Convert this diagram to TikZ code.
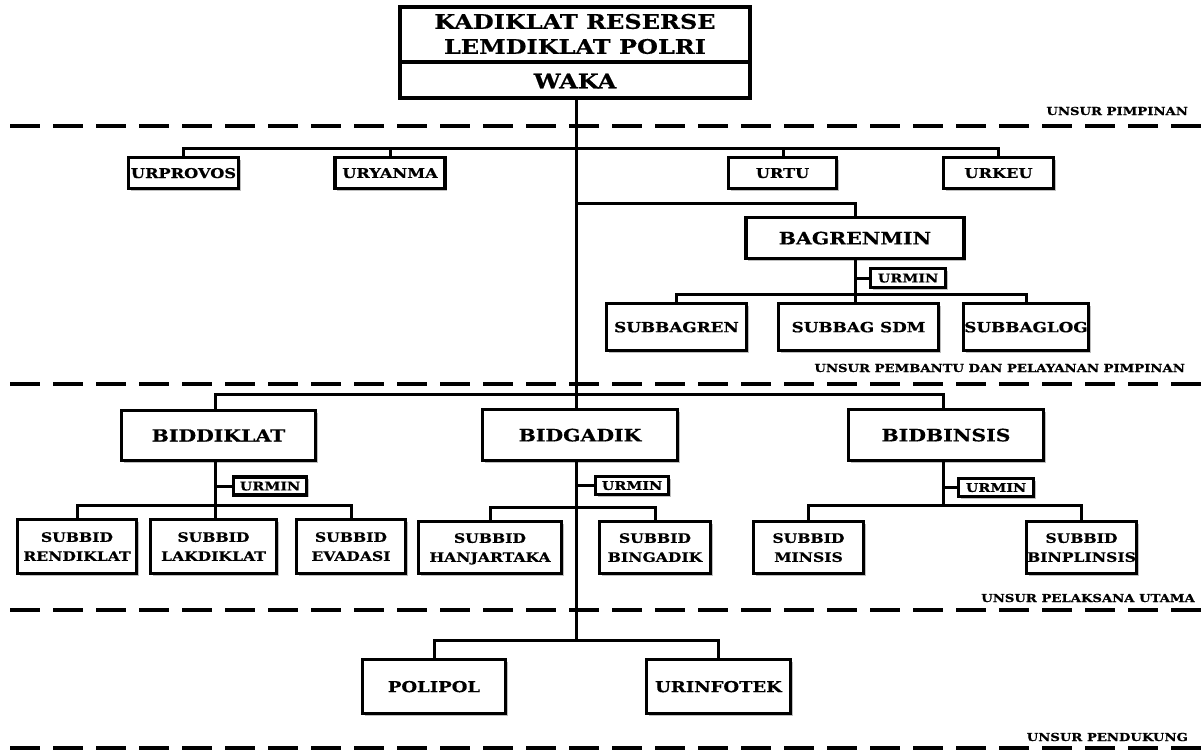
\documentclass[tikz,border=0pt]{standalone}
\usepackage{fontspec}
\setmainfont{DejaVu Serif}[FakeStretch=1.2, BoldFeatures={FakeBold=0.6}]
\usetikzlibrary{shadows}
\begin{document}
\begin{tikzpicture}[x=1pt,y=-1pt,
  bx/.style={draw, line width=3.5pt, fill=white, align=center, inner sep=0pt,
    font=\bfseries, text depth=0pt,
    drop shadow={shadow xshift=2pt, shadow yshift=-2pt, fill=black, opacity=0.25}},
  conn/.style={line width=3pt},
  sep/.style={line width=4.5pt, dash pattern=on 30pt off 13pt},
  lbl/.style={font=\bfseries\fontsize{11}{12}\selectfont, anchor=east, inner sep=0pt},
  ttl/.style={font=\bfseries\fontsize{20}{25}\selectfont, align=center, inner sep=0pt},
  big/.style={font=\bfseries\fontsize{17}{20}\selectfont},
  med/.style={font=\bfseries\fontsize{14}{17}\selectfont},
  lrg/.style={font=\bfseries\fontsize{15}{18}\selectfont},
  sm/.style={font=\bfseries\fontsize{13.5}{15}\selectfont},
  two/.style={font=\bfseries\fontsize{13}{19}\selectfont},
  tiny/.style={font=\bfseries\fontsize{12}{13}\selectfont}
]
\useasboundingbox (0,0) rectangle (1201,753);
\fill[white] (0,0) rectangle (1201,753);

% separators
\draw[sep] (10,126) -- (1201,126);
\draw[sep] (10,384) -- (1201,384);
\draw[sep] (10,610) -- (1201,610);
\draw[sep] (10,748) -- (1201,748);

% labels
\node[lbl] (l1) at (1188,111) {UNSUR PIMPINAN};
\node[lbl] (l2) at (1185,368) {UNSUR PEMBANTU DAN PELAYANAN PIMPINAN};
\node[lbl] (l3) at (1195,598) {UNSUR PELAKSANA UTAMA};
\node[lbl] (l4) at (1188,737) {UNSUR PENDUKUNG};

% junction coordinates
\coordinate (j1) at (576,148);
\coordinate (j2) at (576,203);
\coordinate (jb) at (855,294);
\coordinate (j3) at (576,394);
\coordinate (jd) at (215,505);
\coordinate (jg) at (576,507);
\coordinate (js) at (943,505);
\coordinate (j4) at (576,640);
\coordinate (trunktop) at (576,98);

% trunk and connectors (drawn below boxes)
\draw[conn] (trunktop) -- (j4);
\coordinate (cprov) at (183,160);
\coordinate (cyan) at (390,160);
\coordinate (ctu) at (783,160);
\coordinate (ckeu) at (998,160);
\draw[conn] (cprov) |- (j1) -| (ckeu);
\draw[conn] (cyan) -- (cyan |- j1);
\draw[conn] (ctu) -- (ctu |- j1);
\coordinate (cbag) at (855,220);
\draw[conn] (j2) -| (cbag);

% top box
\node[bx, minimum width=350pt, minimum height=91pt] (head) at (575,52.5) {};
\coordinate (divl) at (400,62);
\coordinate (divr) at (750,62);
\draw[line width=3.5pt] (divl) -- (divr);
\node[ttl] (title) at (575,34) {KADIKLAT RESERSE\\LEMDIKLAT POLRI};
\node[ttl] (waka) at (575,81) {WAKA};

% row 2
\node[bx, sm, minimum width=110pt, minimum height=31pt] (urprovos) at (183.5,173) {URPROVOS};
\node[bx, sm, minimum width=110pt, minimum height=31pt] (uryanma) at (390,173) {URYANMA};
\node[bx, sm, minimum width=108pt, minimum height=31pt] (urtu) at (782.5,173) {URTU};
\node[bx, sm, minimum width=110pt, minimum height=31pt] (urkeu) at (998.5,173) {URKEU};

% bagrenmin
\node[bx, big, minimum width=218pt, minimum height=41pt] (bagrenmin) at (855,238) {BAGRENMIN};
\draw[conn] (bagrenmin.south) -- (bagrenmin.south |- jb);
\node[bx, tiny, minimum width=75pt, minimum height=19pt] (urmin1) at (908,278) {URMIN};
\draw[conn] (urmin1.west) -- (urmin1.west -| bagrenmin.south);
\node[bx, med, minimum width=140pt, minimum height=47pt] (subbagren) at (676.5,327) {SUBBAGREN};
\node[bx, med, minimum width=160pt, minimum height=47pt] (subbagsdm) at (858.5,327) {SUBBAG SDM};
\node[bx, med, minimum width=125pt, minimum height=47pt] (subbaglog) at (1026,327) {SUBBAGLOG};
\draw[conn] (subbagren.north) |- (jb) -| (subbaglog.north);
\draw[conn] (bagrenmin.south |- jb) -- (bagrenmin.south |- subbagsdm.north);

% row 3 connectors
\coordinate (cdik) at (215,412);
\coordinate (cbin) at (943,412);
\draw[conn] (cdik) |- (j3) -| (cbin);
\draw[conn] (cdik) -- (jd);
\draw[conn] (cbin) -- (js);

\node[bx, big, minimum width=194pt, minimum height=50pt] (biddiklat) at (218.5,435.5) {BIDDIKLAT};
\node[bx, big, minimum width=195pt, minimum height=51pt] (bidgadik) at (580,435) {BIDGADIK};
\node[bx, big, minimum width=195pt, minimum height=51pt] (bidbinsis) at (946,435) {BIDBINSIS};

\node[bx, tiny, minimum width=73pt, minimum height=18pt] (urmin2) at (270,486) {URMIN};
\node[bx, tiny, minimum width=73pt, minimum height=18pt] (urmin3) at (632,485.5) {URMIN};
\node[bx, tiny, minimum width=75pt, minimum height=18pt] (urmin4) at (996,487.5) {URMIN};
\draw[conn] (urmin2.west) -- (urmin2.west -| jd);
\draw[conn] (urmin3.west) -- (urmin3.west -| jg);
\draw[conn] (urmin4.west) -- (urmin4.west -| js);

\node[bx, two, minimum width=119pt, minimum height=54pt] (rendiklat) at (77,546.5) {SUBBID\\RENDIKLAT};
\node[bx, two, minimum width=126pt, minimum height=54pt] (lakdiklat) at (213.5,546.5) {SUBBID\\LAKDIKLAT};
\node[bx, two, minimum width=109pt, minimum height=54pt] (evadasi) at (351,546.5) {SUBBID\\EVADASI};
\draw[conn] (rendiklat.north) |- (jd) -| (evadasi.north);
\draw[conn] (jd) -- (jd |- lakdiklat.north);

\node[bx, two, minimum width=143pt, minimum height=52pt] (hanjartaka) at (490,547.5) {SUBBID\\HANJARTAKA};
\node[bx, two, minimum width=111pt, minimum height=52pt] (bingadik) at (655,547.5) {SUBBID\\BINGADIK};
\draw[conn] (hanjartaka.north) |- (jg) -| (bingadik.north);

\node[bx, two, minimum width=110pt, minimum height=52pt] (minsis) at (808.5,547.5) {SUBBID\\MINSIS};
\node[bx, two, minimum width=110pt, minimum height=52pt] (binplinsis) at (1081.5,547.5) {SUBBID\\BINPLINSIS};
\draw[conn] (minsis.north) |- (js) -| (binplinsis.north);

% row 4
\node[bx, lrg, minimum width=143pt, minimum height=54pt] (polipol) at (434,686.5) {POLIPOL};
\node[bx, lrg, minimum width=144pt, minimum height=54pt] (urinfotek) at (718.5,686.5) {URINFOTEK};
\draw[conn] (polipol.north) |- (j4) -| (urinfotek.north);
\end{tikzpicture}
\end{document}
